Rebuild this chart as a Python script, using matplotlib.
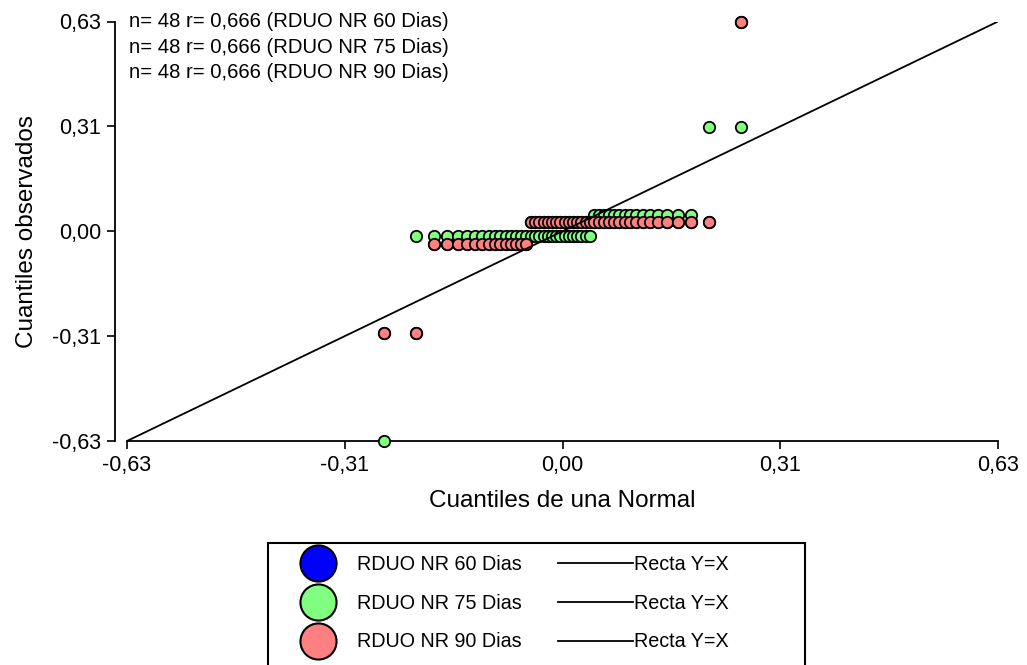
import matplotlib
matplotlib.use("Agg")
import matplotlib.pyplot as plt
from matplotlib.lines import Line2D
from matplotlib.patches import Rectangle

plt.rcParams['font.family'] = ['Liberation Sans', 'DejaVu Sans']

# cuantiles teoricos (eje x), iguales para las tres series
x_normal = [-0.258, -0.212, -0.186, -0.167, -0.151, -0.138, -0.127, -0.116,
            -0.107, -0.098, -0.090, -0.082, -0.074, -0.067, -0.060, -0.053,
            -0.046, -0.040, -0.034, -0.027, -0.021, -0.015, -0.009, -0.003,
            0.003, 0.009, 0.015, 0.021, 0.027, 0.034, 0.040, 0.046,
            0.053, 0.060, 0.067, 0.074, 0.082, 0.090, 0.098, 0.107,
            0.116, 0.127, 0.138, 0.151, 0.167, 0.186, 0.212, 0.258]

# cuantiles observados
y_75 = [-0.630, -0.015, -0.015, -0.015, -0.015, -0.015, -0.015, -0.015,
        -0.015, -0.015, -0.015, -0.015, -0.015, -0.015, -0.015, -0.015,
        -0.015, -0.015, -0.015, -0.015, -0.015, -0.015, -0.015, -0.015,
        -0.015, -0.015, -0.015, -0.015, -0.015, -0.015, -0.015, 0.050,
        0.050, 0.050, 0.050, 0.050, 0.050, 0.050, 0.050, 0.050,
        0.050, 0.050, 0.050, 0.050, 0.050, 0.050, 0.314, 0.314]

y_90 = [-0.305, -0.305, -0.038, -0.038, -0.038, -0.038, -0.038, -0.038,
        -0.038, -0.038, -0.038, -0.038, -0.038, -0.038, -0.038, -0.038,
        0.027, 0.027, 0.027, 0.027, 0.027, 0.027, 0.027, 0.027,
        0.027, 0.027, 0.027, 0.027, 0.027, 0.027, 0.027, 0.027,
        0.027, 0.027, 0.027, 0.027, 0.027, 0.027, 0.027, 0.027,
        0.027, 0.027, 0.027, 0.027, 0.027, 0.027, 0.027, 0.630]

# la serie de 60 dias queda tapada por las otras
y_60 = list(y_90)

series = ["RDUO NR 60 Dias", "RDUO NR 75 Dias", "RDUO NR 90 Dias"]
colores = ["#0000FF", "#80FF80", "#FF8080"]
n_obs = [48, 48, 48]
r_vals = ["0,666", "0,666", "0,666"]

recta = [-0.63, 0.63]
ticks = [-0.63, -0.315, 0.0, 0.315, 0.63]
tick_labels = ["-0,63", "-0,31", "0,00", "0,31", "0,63"]

W, H = 1027, 665
fig = plt.figure(figsize=(W / 100, H / 100), dpi=100)
ax = fig.add_axes([127 / W, 1 - 441 / H, 871 / W, 419.5 / H])

for yv, c in zip([y_60, y_75, y_90], colores):
    ax.plot(x_normal, yv, 'o', ms=8.2, mfc=c, mec='black', mew=1.3,
            clip_on=False, zorder=3)
ax.plot(recta, recta, color='black', lw=1.3, zorder=4)

ax.set_xlim(-0.63, 0.63)
ax.set_ylim(-0.63, 0.63)
ax.set_xticks(ticks)
ax.set_xticklabels(tick_labels)
ax.set_yticks(ticks)
ax.set_yticklabels(tick_labels)
ax.tick_params(direction='out', length=6, width=1.2, labelsize=15.5, pad=4)

for s in ['top', 'right']:
    ax.spines[s].set_visible(False)
for s in ['left', 'bottom']:
    ax.spines[s].set_linewidth(1.3)
ax.spines['left'].set_position(('outward', 8.6))

ax.set_xlabel("Cuantiles de una Normal", fontsize=17.5, labelpad=10)
ax.set_ylabel("Cuantiles observados", fontsize=17.5, labelpad=10)

for i, (nombre, n, r) in enumerate(zip(series, n_obs, r_vals)):
    ax.text(0.002, 1.0 - i * 0.0608, f"n= {n} r= {r} ({nombre})",
            transform=ax.transAxes, fontsize=14.6, va='center', ha='left')

# leyenda
handles = [Line2D([], [], ls='none', marker='o', ms=26, mfc=c, mec='black',
                  mew=1.5) for c in colores]
handles += [Line2D([], [], color='black', lw=1.3) for _ in series]
labels = series + ["Recta Y=X"] * 3
fig.legend(handles, labels, ncol=2, loc='upper left',
           bbox_to_anchor=(281 / W, 1 - 555 / H), frameon=False,
           fontsize=14.2, borderpad=0, borderaxespad=0,
           handlelength=3.8, handletextpad=0.05, columnspacing=1.85,
           labelspacing=1.0)
fig.patches.append(Rectangle((268 / W, -0.1), (805 - 268) / W,
                             (H - 543) / H + 0.1, transform=fig.transFigure,
                             fill=False, ec='black', lw=1.5))

fig.savefig("out.png", dpi=100)
